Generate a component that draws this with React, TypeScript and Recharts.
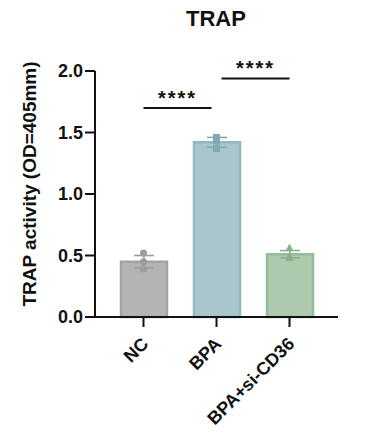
import { ComposedChart, Bar, XAxis, YAxis, ErrorBar, Scatter, ReferenceLine } from "recharts";

const groups = ["NC", "BPA", "BPA+si-CD36"];
const means = [0.45, 1.42, 0.51];
const errors = [0.05, 0.04, 0.03];
const rep1 = [0.52, 1.46, 0.56];
const rep2 = [0.45, 1.43, 0.49];
const rep3 = [0.39, 1.37, 0.48];
const yTicks = [0, 0.5, 1, 1.5, 2];

// comparison brackets
const brackets = [
  { from: "NC", to: "BPA", y: 1.7, label: "****" },
  { from: "BPA", to: "BPA+si-CD36", y: 1.94, label: "****" },
];

const fills = ["#b4b4b4", "#a9c6cc", "#adc9ae"];
const edges = ["#a2a2a2", "#93b7bf", "#95bb98"];
const marks = ["#9c9c9c", "#80aab3", "#87b18a"];

const FONT = "'Liberation Sans', Arial, sans-serif";
const INK = "#111";

const data = groups.map((g, i) => {
  const row: Record<string, any> = { group: g, p1: rep1[i], p2: rep2[i], p3: rep3[i] };
  row["v" + i] = means[i];
  row["e" + i] = errors[i];
  return row;
});

const XTick = ({ x, y, payload }: any) => {
  const ax = x + 6;
  const ay = y + 16;
  return (
    <text
      x={ax}
      y={ay}
      transform={`rotate(-45 ${ax} ${ay})`}
      textAnchor="end"
      fontSize={18}
      fontWeight={700}
      fontFamily={FONT}
      fill={INK}
    >
      {payload.value}
    </text>
  );
};

const Point = (props: any) => {
  const { cx, cy, payload } = props;
  if (cx == null || cy == null) return null;
  const i = groups.indexOf(payload.group);
  const c = marks[i];
  if (i === 0) return <circle cx={cx} cy={cy} r={3.5} fill={c} />;
  if (i === 1) return <rect x={cx - 3.5} y={cy - 3.5} width={7} height={7} fill={c} />;
  return <path d={`M${cx},${cy - 4.5}L${cx + 4},${cy + 3}L${cx - 4},${cy + 3}Z`} fill={c} />;
};

const YLabel = () => (
  <text
    x={36}
    y={184}
    transform="rotate(-90 36 184)"
    textAnchor="middle"
    fontSize={19}
    fontWeight={700}
    fontFamily={FONT}
    fill={INK}
  >
    TRAP activity (OD=405mm)
  </text>
);

// brackets sharing the middle bar stop a little short of its centre
const bracketShape = (label: string, idx: number) => (p: any) => {
  const gap = 5;
  const x1 = p.x1 + (idx === 1 ? gap : 0);
  const x2 = p.x2 - (idx === 0 ? gap : 0);
  const y = p.y1;
  return (
    <g>
      <line x1={x1} y1={y} x2={x2} y2={y} stroke={INK} strokeWidth={2} />
      <text
        x={(x1 + x2) / 2}
        y={y - 3}
        textAnchor="middle"
        fontSize={20}
        fontWeight={700}
        fontFamily={FONT}
        letterSpacing={2}
        fill={INK}
      >
        {label}
      </text>
    </g>
  );
};

export default function App() {
  return (
    <div style={{ position: "absolute", left: 0, top: 0, width: 376, height: 445, background: "#fff" }}>
      <div
        style={{
          position: "absolute",
          left: 0,
          top: 8,
          width: 432,
          textAlign: "center",
          fontFamily: FONT,
          fontWeight: 700,
          fontSize: 22,
          lineHeight: "22px",
          color: INK,
        }}
      >
        TRAP
      </div>
      <ComposedChart
        width={376}
        height={445}
        data={data}
        margin={{ top: 71, right: 38, bottom: 0, left: 0 }}
      >
        <XAxis
          dataKey="group"
          height={128}
          padding={{ left: 12, right: 12 }}
          axisLine={{ stroke: INK, strokeWidth: 2 }}
          tickLine={{ stroke: INK, strokeWidth: 2 }}
          tickSize={10}
          tickMargin={2}
          interval={0}
          tick={<XTick />}
        />
        <YAxis
          width={95}
          domain={[0, 2]}
          ticks={yTicks}
          interval={0}
          tickFormatter={(v: number) => v.toFixed(1)}
          axisLine={{ stroke: INK, strokeWidth: 2 }}
          tickLine={{ stroke: INK, strokeWidth: 2 }}
          tickSize={10}
          tickMargin={2}
          tick={{ fill: INK, fontSize: 18, fontWeight: 700, fontFamily: FONT }}
          label={<YLabel />}
        />
        {groups.map((g, i) => (
          <Bar
            key={g}
            dataKey={"v" + i}
            stackId="s"
            barSize={46}
            fill={fills[i]}
            stroke={edges[i]}
            strokeWidth={2.5}
            isAnimationActive={false}
          >
            <ErrorBar dataKey={"e" + i} width={10} stroke={marks[i]} strokeWidth={1.6} />
          </Bar>
        ))}
        <Scatter dataKey="p1" shape={Point} isAnimationActive={false} />
        <Scatter dataKey="p2" shape={Point} isAnimationActive={false} />
        <Scatter dataKey="p3" shape={Point} isAnimationActive={false} />
        {brackets.map((b, i) => (
          <ReferenceLine
            key={i}
            segment={[
              { x: b.from, y: b.y },
              { x: b.to, y: b.y },
            ]}
            shape={bracketShape(b.label, i)}
          />
        ))}
      </ComposedChart>
    </div>
  );
}
